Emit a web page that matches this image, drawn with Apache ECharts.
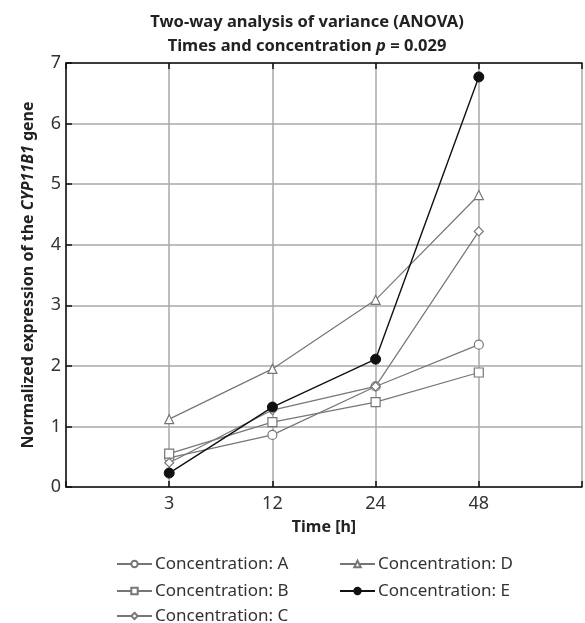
<!DOCTYPE html>
<html>
<head>
<meta charset="utf-8">
<script src="https://cdn.jsdelivr.net/npm/echarts@6/dist/echarts.min.js"></script>
<style>
html,body{margin:0;padding:0;background:#fff;}
#chart{width:585px;height:623px;}
</style>
</head>
<body>
<div id="chart"></div>
<script>
const categories = ['', '3', '12', '24', '48', ''];
const seriesNames = ['Concentration: A', 'Concentration: B', 'Concentration: C', 'Concentration: D', 'Concentration: E'];
const concA = [null, 0.48, 0.86, 1.66, 2.35, null];
const concB = [null, 0.55, 1.07, 1.40, 1.89, null];
const concC = [null, 0.40, 1.27, 1.66, 4.22, null];
const concD = [null, 1.12, 1.95, 3.09, 4.82, null];
const concE = [null, 0.23, 1.32, 2.11, 6.77, null];
const yTicks = [0, 1, 2, 3, 4, 5, 6, 7];

const FONT = 'Noto Sans';
const GREY = '#767676';

function hollow(name, data, symbol) {
  return {
    name: name, type: 'line', data: data, symbol: symbol, symbolSize: 9,
    lineStyle: {color: GREY, width: 1.2},
    itemStyle: {color: '#fff', borderColor: GREY, borderWidth: 1.2},
    emphasis: {disabled: true}, animation: false, z: 3
  };
}

// legend slots: [left, rowCenter]
const legendSlots = [[116, 564], [116, 591], [116, 616], [339, 564], [339, 591]];
const legends = seriesNames.map(function (n, i) {
  return {
    data: [n], orient: 'horizontal', left: legendSlots[i][0], top: legendSlots[i][1] - 10,
    padding: 0, itemGap: 0, itemWidth: 35, itemHeight: 8,
    textStyle: {fontSize: 17, color: '#333', fontFamily: FONT, lineHeight: 20, padding: [0, 0, 0, -2]},
    selectedMode: false
  };
});

const chart = echarts.init(document.getElementById('chart'), null, {renderer: 'canvas'});
chart.setOption({
  animation: false,
  backgroundColor: '#fff',
  textStyle: {fontFamily: FONT},
  title: {
    left: 302, top: 5, textAlign: 'center',
    text: '{b|Two-way analysis of variance (ANOVA)}\n{b|Times and concentration }{i|p}{b| = 0.029}',
    textStyle: {
      fontFamily: FONT,
      rich: {
        b: {fontSize: 16.5, fontWeight: 'bold', color: '#222', lineHeight: 24, fontFamily: FONT},
        i: {fontSize: 16.5, fontWeight: 'bold', fontStyle: 'italic', color: '#222', lineHeight: 24, fontFamily: FONT}
      }
    }
  },
  grid: {left: 66, right: -11, top: 63, bottom: 136},
  legend: legends,
  xAxis: [
    {
      type: 'category', data: categories, boundaryGap: false, position: 'bottom',
      name: 'Time [h]', nameLocation: 'middle', nameGap: 32,
      nameTextStyle: {fontSize: 16, fontWeight: 'bold', color: '#222', fontFamily: FONT},
      axisLine: {show: true, lineStyle: {color: '#111', width: 1.5}},
      axisTick: {show: true, inside: true, length: 6, interval: 0, lineStyle: {color: '#111', width: 1.5}},
      axisLabel: {fontSize: 18, color: '#333', margin: 8, interval: 0, fontFamily: FONT},
      splitLine: {show: true, interval: 0, lineStyle: {color: '#a8a8a8', width: 1.5}}
    },
    {
      type: 'category', data: categories, boundaryGap: false, position: 'top',
      axisLine: {show: true, lineStyle: {color: '#111', width: 1.5}},
      axisTick: {show: true, inside: true, length: 6, interval: 0, lineStyle: {color: '#111', width: 1.5}},
      axisLabel: {show: false},
      splitLine: {show: false}
    }
  ],
  yAxis: {
    type: 'value', min: yTicks[0], max: yTicks[yTicks.length - 1], interval: 1,
    name: '{b|Normalized expression of the }{i|CYP11B1}{b| gene}',
    nameLocation: 'middle', nameGap: 30, nameRotate: 90,
    nameTextStyle: {
      rich: {
        b: {fontSize: 16, fontWeight: 'bold', color: '#222', fontFamily: FONT},
        i: {fontSize: 16, fontWeight: 'bold', fontStyle: 'italic', color: '#222', fontFamily: FONT}
      }
    },
    axisLine: {show: true, lineStyle: {color: '#111', width: 1.5}},
    axisTick: {show: true, inside: true, length: 6, lineStyle: {color: '#111', width: 1.5}},
    axisLabel: {fontSize: 18, color: '#333', margin: 5, fontFamily: FONT},
    splitLine: {show: true, lineStyle: {color: '#a8a8a8', width: 1.5}}
  },
  series: [
    hollow(seriesNames[0], concA, 'circle'),
    hollow(seriesNames[1], concB, 'rect'),
    hollow(seriesNames[2], concC, 'diamond'),
    hollow(seriesNames[3], concD, 'triangle'),
    {
      name: seriesNames[4], type: 'line', data: concE, symbol: 'circle', symbolSize: 10,
      lineStyle: {color: '#111', width: 1.4},
      itemStyle: {color: '#111', borderColor: '#111', borderWidth: 1},
      emphasis: {disabled: true}, z: 4
    }
  ]
});
</script>
</body>
</html>
